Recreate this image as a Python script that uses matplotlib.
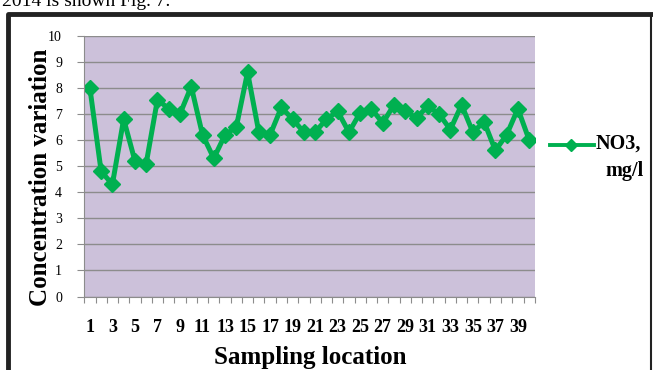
import matplotlib
matplotlib.use("Agg")
import matplotlib.pyplot as plt
from matplotlib.lines import Line2D

# ---- データ ----
locations = list(range(1, 41))
no3 = [8.0, 4.8, 4.3, 6.8, 5.2, 5.1, 7.55, 7.2, 7.0, 8.05,
       6.2, 5.3, 6.2, 6.5, 8.6, 6.3, 6.2, 7.25, 6.8, 6.3,
       6.3, 6.8, 7.1, 6.3, 7.05, 7.2, 6.65, 7.35, 7.1, 6.85,
       7.3, 7.0, 6.4, 7.35, 6.3, 6.7, 5.6, 6.2, 7.2, 6.0]
yticks = list(range(0, 11))
xlabels = [str(i) if i % 2 == 1 else "" for i in locations]

GREEN = "#00B050"
BG = "#CCC1DA"
GRID = "#8C8C8C"

plt.rcParams['font.family'] = ['Liberation Serif', 'DejaVu Serif']

fig = plt.figure(figsize=(6.53, 3.70), dpi=100)
ax = fig.add_axes([0.129, 0.1986, 0.690, 0.7049])

# ---- 描画 ----
ax.set_facecolor(BG)
ax.plot(locations, no3, color=GREEN, lw=3.6, marker='D', ms=8.5, mec=GREEN, mfc=GREEN)
ax.set_xlim(0.5, 40.5)
ax.set_ylim(0, 10)
ax.set_yticks(yticks)
ax.set_yticklabels([str(v) for v in yticks], fontsize=10)
ax.yaxis.grid(True, color=GRID, lw=1)
ax.set_axisbelow(True)

# x 軸: 区切り線の目盛り + 奇数ラベル
ax.set_xticks([i + 0.5 for i in range(0, 41)], minor=False)
ax.set_xticklabels([])
ax.set_xticks(locations, minor=True)
ax.set_xticklabels(xlabels, minor=True, fontsize=13, fontweight='bold')
ax.tick_params(axis='x', which='major', length=4, color=GRID, direction='out')
ax.tick_params(axis='x', which='minor', length=0, pad=16)
ax.tick_params(axis='y', length=5, color=GRID, pad=11)

for s in ['top', 'right']:
    ax.spines[s].set_visible(False)
for s in ['left', 'bottom']:
    ax.spines[s].set_color(GRID)

fig.text(0.475, 0.033, "Sampling location", fontsize=18, fontweight='bold',
         ha='center', va='center')
fig.text(0.062, 0.522, "Concentration variation", rotation=90, fontsize=18,
         fontweight='bold', ha='center', va='center')

# ---- 凡例 ----
fig.add_artist(Line2D([0.842, 0.910], [0.608, 0.608], color=GREEN, lw=2.8))
fig.add_artist(Line2D([0.875], [0.608], marker='D', ms=6.5, color=GREEN))
fig.text(0.912, 0.613, "NO3,", fontsize=14.5, fontweight='bold', ha='left', va='center')
fig.text(0.957, 0.537, "mg/l", fontsize=14.5, fontweight='bold', ha='center', va='center')

# ---- 枠と上部テキスト ----
fig.add_artist(Line2D([0.0115, 0.0115, 0.997], [0.0, 0.963, 0.963], color='#222222', lw=3.5))
fig.add_artist(Line2D([0.997, 0.997], [0.0, 0.963], color='#222222', lw=1.5))
fig.text(0.003, 0.985, "2014 is shown Fig. 7.", fontsize=14, ha='left', va='baseline')

fig.savefig("out.png", dpi=100)
